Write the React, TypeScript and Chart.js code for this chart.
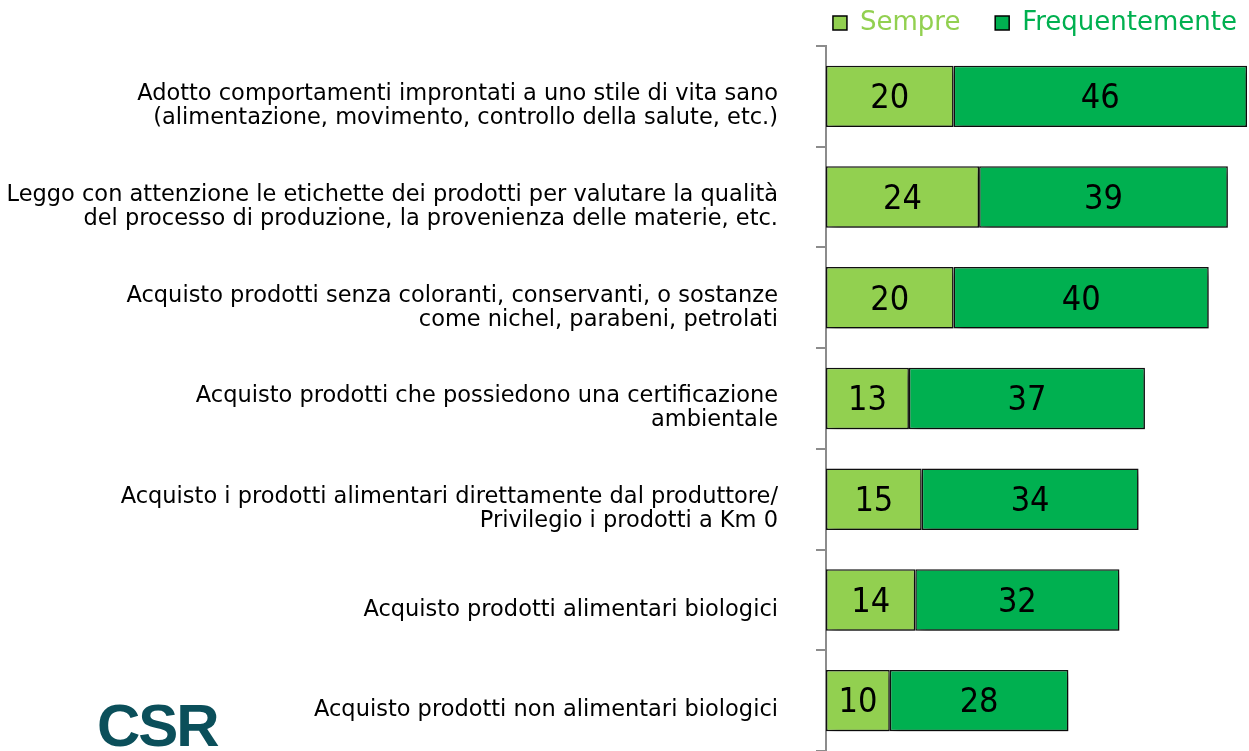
import React, { useEffect, useRef } from "react";
import { Chart, registerables } from "chart.js";

Chart.register(...registerables);

const categories: string[][] = [
  ["Adotto comportamenti improntati a uno stile di vita sano", "(alimentazione, movimento, controllo della salute, etc.)"],
  ["Leggo con attenzione le etichette dei prodotti per valutare la qualità", "del processo di produzione, la provenienza delle materie, etc."],
  ["Acquisto prodotti senza coloranti, conservanti, o sostanze", "come nichel, parabeni, petrolati"],
  ["Acquisto prodotti che possiedono una certificazione", "ambientale"],
  ["Acquisto i prodotti alimentari direttamente dal produttore/", "Privilegio i prodotti a Km 0"],
  ["Acquisto prodotti alimentari biologici"],
  ["Acquisto prodotti non alimentari biologici"],
];
const sempre: number[] = [20, 24, 20, 13, 15, 14, 10];
const frequentemente: number[] = [46, 39, 40, 37, 34, 32, 28];
const seriesNames: string[] = ["Sempre", "Frequentemente"];

const FONT = "'DejaVu Sans', Verdana, sans-serif";
const VALUE_FONT = "'DejaVu Sans Condensed', 'DejaVu Sans', Tahoma, sans-serif";
const LIGHT = "#92D050";
const DARK = "#00B050";

const shadowPlugin = {
  id: "barShadow",
  beforeDatasetsDraw(chart: any) {
    const ctx = chart.ctx;
    ctx.save();
    ctx.shadowColor = "rgba(0,0,0,0.45)";
    ctx.shadowBlur = 7;
    ctx.shadowOffsetX = 4;
    ctx.shadowOffsetY = 5;
  },
  afterDatasetsDraw(chart: any) {
    chart.ctx.restore();
  },
};

const valueLabels = {
  id: "valueLabels",
  afterDatasetsDraw(chart: any) {
    const ctx = chart.ctx;
    ctx.save();
    ctx.font = `34px ${VALUE_FONT}`;
    ctx.fillStyle = "#000";
    ctx.textAlign = "center";
    ctx.textBaseline = "middle";
    chart.data.datasets.forEach((ds: any, i: number) => {
      const meta = chart.getDatasetMeta(i);
      meta.data.forEach((bar: any, j: number) => {
        const { x, base, y } = bar.getProps(["x", "base", "y"], true);
        ctx.fillText(String(ds.data[j]), (x + base) / 2, y + 3);
      });
    });
    ctx.restore();
  },
};

const legendHeight = {
  id: "legendHeight",
  beforeInit(chart: any) {
    const orig = chart.legend.fit;
    chart.legend.fit = function fit() {
      orig.call(this);
      this.height = 46;
    };
  },
};

export default function App() {
  const ref = useRef<HTMLCanvasElement | null>(null);
  useEffect(() => {
    if (!ref.current) return;
    const chart = new Chart(ref.current, {
      type: "bar",
      data: {
        labels: categories,
        datasets: [
          {
            label: seriesNames[0],
            data: sempre,
            backgroundColor: LIGHT,
            borderColor: "#111",
            borderWidth: 1.5,
            borderSkipped: false,
            barPercentage: 0.61,
            categoryPercentage: 1,
          },
          {
            label: seriesNames[1],
            data: frequentemente,
            backgroundColor: DARK,
            borderColor: "#111",
            borderWidth: 1.5,
            borderSkipped: false,
            barPercentage: 0.61,
            categoryPercentage: 1,
          },
        ],
      },
      options: {
        indexAxis: "y",
        animation: false,
        responsive: true,
        maintainAspectRatio: false,
        layout: { padding: { left: 0, right: 2, top: 0, bottom: 0 } },
        scales: {
          x: { stacked: true, display: false, min: 0, max: 66 },
          y: {
            stacked: true,
            afterFit(scale: any) {
              scale.width = 826;
              scale.paddingTop = 0;
              scale.paddingBottom = 0;
            },
            border: { display: true, color: "#8c8c8c", width: 2 },
            grid: {
              offset: true,
              drawOnChartArea: false,
              drawTicks: true,
              tickLength: 10,
              color: "#8c8c8c",
              lineWidth: 2,
            },
            ticks: {
              padding: 38,
              labelOffset: 10,
              color: "#000",
              font: { family: FONT, size: 22.5, lineHeight: 1.06 },
            },
          },
        },
        plugins: {
          tooltip: { enabled: false },
          legend: {
            position: "top",
            align: "end",
            labels: {
              boxWidth: 14,
              boxHeight: 14,
              padding: 10,
              font: { family: FONT, size: 26 },
              generateLabels(c: any) {
                return c.data.datasets.map((ds: any, i: number) => ({
                  text: i === 0 ? ds.label + "   " : ds.label,
                  fillStyle: ds.backgroundColor,
                  strokeStyle: "#000",
                  lineWidth: 1.5,
                  fontColor: ds.backgroundColor,
                  datasetIndex: i,
                  hidden: false,
                }));
              },
            },
          },
        },
      },
      plugins: [shadowPlugin, valueLabels, legendHeight],
    });
    return () => chart.destroy();
  }, []);

  return (
    <div style={{ position: "fixed", left: 0, top: 0, width: 1249, height: 751, background: "#fff", overflow: "hidden" }}>
      <canvas ref={ref} />
      <div
        style={{
          position: "absolute",
          left: 97,
          top: 696,
          fontFamily: "'Liberation Sans', Arial, sans-serif",
          fontWeight: 900,
          fontSize: 60,
          letterSpacing: -2,
          color: "#0b4f5a",
          lineHeight: 1,
        }}
      >
        CSR
      </div>
    </div>
  );
}
